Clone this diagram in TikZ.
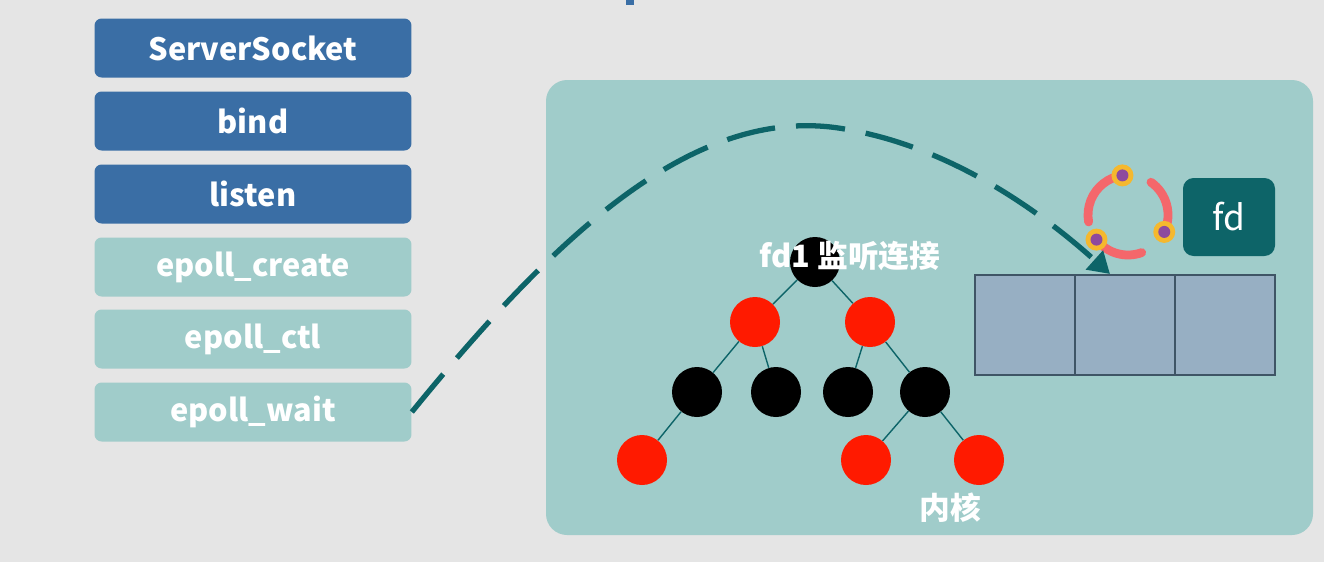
\documentclass[tikz,border=0pt]{standalone}
\usepackage{fontspec}
\setmainfont{Noto Sans CJK SC}
\usetikzlibrary{arrows.meta}
\definecolor{bgray}{HTML}{E5E5E5}
\definecolor{sblue}{HTML}{3A6EA5}
\definecolor{lteal}{HTML}{A0CCCA}
\definecolor{dteal}{HTML}{0D6468}
\definecolor{cellblue}{HTML}{97AFC3}
\definecolor{celledge}{HTML}{3F5566}
\definecolor{ringred}{HTML}{F4676B}
\definecolor{ringyel}{HTML}{F5B82E}
\definecolor{ringpur}{HTML}{8E4A9E}
\definecolor{treered}{HTML}{FF1A00}
\tikzset{
  callbox/.style={rounded corners=4pt, minimum width=6.34cm, minimum height=1.18cm,
    text=white, font=\fontsize{17.5}{20}\selectfont\bfseries},
  sysbox/.style={callbox, fill=sblue},
  epbox/.style={callbox, fill=lteal},
  rbnode/.style={circle, minimum size=1cm, inner sep=0pt},
  rednode/.style={rbnode, fill=treered},
  blknode/.style={rbnode, fill=black},
  treeedge/.style={dteal, line width=0.8pt},
  arrcell/.style={draw=celledge, fill=cellblue, line width=1.5pt, minimum width=2cm, minimum height=2cm, inner sep=0pt},
}
\begin{document}
\begin{tikzpicture}[x=0.02cm, y=-0.02cm]
    \fill[bgray] (0,0) rectangle (1324,562);
    \useasboundingbox (0,0) rectangle (1324,562);
    \fill[sblue] (626,0) rectangle (634,5);

    % calls on the left
    \node[sysbox] (srv) at (253,48) {ServerSocket};
    \node[sysbox] (bind) at (253,121) {bind};
    \node[sysbox] (lsn) at (253,194) {listen};
    \node[epbox] (create) at (253,267) {epoll\_create};
    \node[epbox] (ctl) at (253,339) {epoll\_ctl};
    \node[epbox] (wait) at (253,412) {epoll\_wait};

    % kernel panel
    \fill[lteal, rounded corners=12pt] (546,80) rectangle (1313,535);
    \node[text=white, font=\fontsize{17.5}{20}\selectfont\bfseries] (kern) at (950,508) {内核};

    % red-black tree
    \node[blknode] (root) at (815,262) {};
    \node[rednode] (r1) at (755,322) {};
    \node[rednode] (r2) at (870,322) {};
    \node[blknode] (b1) at (697,392) {};
    \node[blknode] (b2) at (776,392) {};
    \node[blknode] (b3) at (848,392) {};
    \node[blknode] (b4) at (925,392) {};
    \node[rednode] (r3) at (642,460) {};
    \node[rednode] (r4) at (866,460) {};
    \node[rednode] (r5) at (979,460) {};
    \draw[treeedge] (root) -- (r1);
    \draw[treeedge] (root) -- (r2);
    \draw[treeedge] (r1) -- (b1);
    \draw[treeedge] (r1) -- (b2);
    \draw[treeedge] (r2) -- (b3);
    \draw[treeedge] (r2) -- (b4);
    \draw[treeedge] (b1) -- (r3);
    \draw[treeedge] (b4) -- (r4);
    \draw[treeedge] (b4) -- (r5);
    \node[text=white, font=\fontsize{17.5}{20}\selectfont\bfseries] (rootlbl) at (850,256) {fd1 监听连接};

    % ready list
    \node[arrcell] (c1) at (1025,325) {};
    \node[arrcell] (c2) at (1125,325) {};
    \node[arrcell] (c3) at (1225,325) {};

    % fd and ring
    \node[fill=dteal, rounded corners=6pt, minimum width=1.84cm, minimum height=1.56cm,
      text=white, font=\fontsize{20}{22}\selectfont] (fd) at (1229,217) {fd};
    \coordinate (ring) at (1128,215);
    \foreach \a/\b in {98/190, -25/55, 218/290} {
      \draw[ringred, line width=5pt, line cap=round] (ring) ++(-\a:40) arc[start angle=-\a, end angle=-\b, radius=40];
    }
    \foreach \a in {98,-25,218} {
      \fill[ringyel] (ring) ++(-\a:40) circle (11);
      \fill[ringpur] (ring) ++(-\a:40) circle (6);
    }

    % wait curve
    \coordinate (tip) at (1110,274);
    \draw[dteal, line width=3pt, dash pattern=on 28pt off 12pt, -{Triangle[length=12pt,width=14pt]}]
      (wait.east) .. controls (560,230) and (700,100) .. (850,130)
      .. controls (960,150) and (1050,220) .. (tip);
\end{tikzpicture}
\end{document}
